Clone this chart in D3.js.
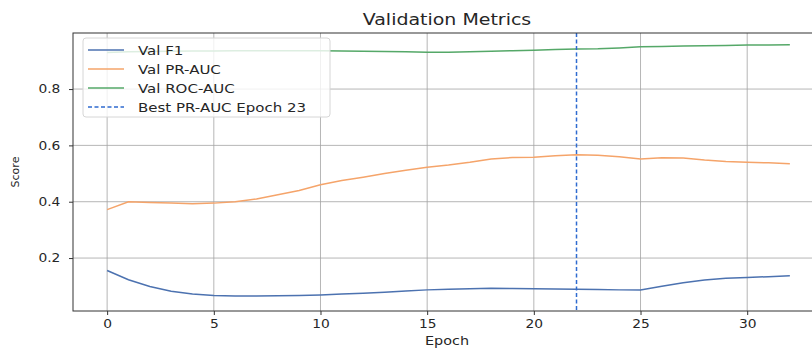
<!DOCTYPE html>
<html>
<head>
<meta charset="utf-8">
<script src="https://cdn.jsdelivr.net/npm/d3@7"></script>
<style>
  body { margin: 0; background: #fff; }
  text { font-family: "DejaVu Sans", sans-serif; fill: #262626; }
</style>
</head>
<body>
<script>
// Data
const epochs = d3.range(0, 33);
const valF1 = [0.156, 0.123, 0.099, 0.082, 0.072, 0.067, 0.065, 0.065, 0.066, 0.067, 0.069,
  0.072, 0.075, 0.079, 0.083, 0.087, 0.089, 0.091, 0.093, 0.092, 0.091, 0.090, 0.089,
  0.088, 0.087, 0.087, 0.100, 0.112, 0.122, 0.128, 0.131, 0.134, 0.137];
const valPR = [0.372, 0.400, 0.397, 0.395, 0.393, 0.395, 0.400, 0.410, 0.425, 0.440, 0.460,
  0.475, 0.487, 0.500, 0.512, 0.522, 0.530, 0.540, 0.552, 0.557, 0.558, 0.563, 0.567,
  0.565, 0.560, 0.552, 0.556, 0.555, 0.548, 0.543, 0.540, 0.538, 0.535];
const valROC = [0.930, 0.932, 0.933, 0.934, 0.935, 0.935, 0.936, 0.936, 0.936, 0.936, 0.936,
  0.935, 0.934, 0.933, 0.932, 0.931, 0.931, 0.932, 0.934, 0.936, 0.938, 0.940, 0.942,
  0.943, 0.946, 0.950, 0.951, 0.953, 0.954, 0.955, 0.956, 0.956, 0.957];
const bestEpoch = 22;
const seriesNames = ['Val F1', 'Val PR-AUC', 'Val ROC-AUC'];
const bestLabel = 'Best PR-AUC Epoch 23';
const xTicks = [0, 5, 10, 15, 20, 25, 30];
const yTicks = [0.2, 0.4, 0.6, 0.8];

const colors = ['#4c72b0', '#f5a46a', '#55a868'];
const bestColor = '#2f6bd0';
const sx = 1.2; // text in the picture is stretched horizontally

const W = 812, H = 350;
const plot = { left: 73, right: 824, top: 33, bottom: 311 };

const svg = d3.select('body').append('svg')
  .attr('width', W).attr('height', H);

const x = d3.scaleLinear().domain([-1.6, 33.6]).range([plot.left, plot.right]);
const y = d3.scaleLinear().domain([0.012, 0.999]).range([plot.bottom, plot.top]);

// grid
svg.append('g').selectAll('line').data(xTicks).join('line')
  .attr('x1', d => x(d)).attr('x2', d => x(d))
  .attr('y1', plot.top).attr('y2', plot.bottom)
  .attr('stroke', '#a3a3a3').attr('stroke-width', 0.8);
svg.append('g').selectAll('line').data(yTicks).join('line')
  .attr('x1', plot.left).attr('x2', plot.right)
  .attr('y1', d => y(d)).attr('y2', d => y(d))
  .attr('stroke', '#a3a3a3').attr('stroke-width', 0.8);

// series
const allSeries = [valF1, valPR, valROC];
const line = d3.line().x((d, i) => x(epochs[i])).y(d => y(d));
allSeries.forEach((s, k) => {
  svg.append('path').datum(s)
    .attr('d', line)
    .attr('fill', 'none')
    .attr('stroke', colors[k])
    .attr('stroke-width', 1.5);
});

// best epoch marker
svg.append('line')
  .attr('x1', x(bestEpoch)).attr('x2', x(bestEpoch))
  .attr('y1', plot.top).attr('y2', plot.bottom)
  .attr('stroke', bestColor).attr('stroke-width', 1.5)
  .attr('stroke-dasharray', '4,2.5');

// frame
svg.append('rect')
  .attr('x', plot.left).attr('y', plot.top)
  .attr('width', plot.right - plot.left).attr('height', plot.bottom - plot.top)
  .attr('fill', 'none').attr('stroke', '#333').attr('stroke-width', 1);

// axes
const xAxis = svg.append('g')
  .attr('transform', `translate(0,${plot.bottom})`)
  .call(d3.axisBottom(x).tickValues(xTicks).tickSize(4).tickPadding(5));
const yAxis = svg.append('g')
  .attr('transform', `translate(${plot.left},0)`)
  .call(d3.axisLeft(y).tickValues(yTicks).tickFormat(d3.format('.1f')).tickSize(4).tickPadding(5));
[xAxis, yAxis].forEach(g => {
  g.select('.domain').remove();
  g.selectAll('line').attr('stroke', '#333');
  g.selectAll('text').attr('font-size', 11.5).attr('fill', '#333')
    .attr('font-family', '"DejaVu Sans", sans-serif');
});
xAxis.selectAll('text').attr('transform', `scale(${sx},1)`);
yAxis.selectAll('text').attr('transform', `translate(${-9 * (sx - 1)},0) scale(${sx},1)`);

// titles
svg.append('text')
  .attr('transform', `translate(447,25) scale(1.15,1)`)
  .attr('text-anchor', 'middle').attr('font-size', 16.5)
  .text('Validation Metrics');
svg.append('text')
  .attr('transform', `translate(447,345) scale(${sx},1)`)
  .attr('text-anchor', 'middle').attr('font-size', 12)
  .text('Epoch');
svg.append('text')
  .attr('transform', `translate(19,172) rotate(-90)`)
  .attr('text-anchor', 'middle').attr('font-size', 11)
  .text('Score');

// legend
const legend = svg.append('g');
legend.append('rect')
  .attr('x', 83).attr('y', 38).attr('width', 247).attr('height', 79)
  .attr('rx', 3)
  .attr('fill', '#fff').attr('fill-opacity', 0.8)
  .attr('stroke', '#d6d6d6').attr('stroke-width', 1);
const legendItems = seriesNames.map((n, i) => ({ name: n, color: colors[i], dash: null }))
  .concat([{ name: bestLabel, color: bestColor, dash: '4,2.5' }]);
legendItems.forEach((d, i) => {
  const ly = 50 + i * 19;
  legend.append('line')
    .attr('x1', 88).attr('x2', 124).attr('y1', ly).attr('y2', ly)
    .attr('stroke', d.color).attr('stroke-width', 1.5)
    .attr('stroke-dasharray', d.dash);
  legend.append('text')
    .attr('transform', `translate(138,${ly + 4.5}) scale(${sx},1)`)
    .attr('font-size', 12.5)
    .text(d.name);
});
</script>
</body>
</html>
